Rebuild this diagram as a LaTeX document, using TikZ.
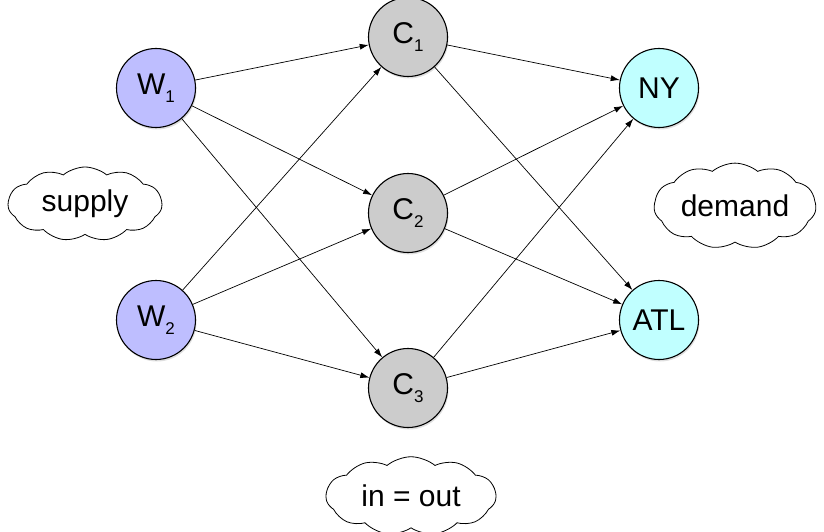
\documentclass[tikz,border=0pt]{standalone}
\usepackage{fontspec}
\setmainfont{Liberation Sans}
\usetikzlibrary{shapes.symbols,shadows,arrows.meta}
\newcommand{\sbs}[1]{\raisebox{-0.25em}{\fontsize{17}{17}\selectfont #1}}
\begin{document}
\begin{tikzpicture}[x=1pt,y=-1pt,
  every node/.style={font=\fontsize{30}{35}\selectfont},
  vtx/.style={circle,draw=black,line width=1.1pt,minimum size=79pt,inner sep=0pt,
     drop shadow={shadow xshift=1pt,shadow yshift=-2pt,opacity=0.25}},
  wnode/.style={vtx,fill={rgb,255:red,190;green,190;blue,255}},
  cnode/.style={vtx,fill={rgb,255:red,204;green,204;blue,204}},
  dnode/.style={vtx,fill={rgb,255:red,192;green,255;blue,255}},
  cloudbox/.style={cloud,draw=black,line width=0.8pt,cloud puffs=11,cloud puff arc=80,aspect=2.1,inner sep=0pt},
  flow/.style={draw=black,line width=0.7pt,-{Latex[length=9pt,width=6pt]}}
]
\useasboundingbox (0,0) rectangle (824,532);
\node[wnode] (W1) at (156,88) {W\sbs{1}};
\node[wnode] (W2) at (156,320) {W\sbs{2}};
\node[cnode] (C1) at (408,37) {C\sbs{1}};
\node[cnode] (C2) at (408,213) {C\sbs{2}};
\node[cnode] (C3) at (408,388) {C\sbs{3}};
\node[dnode] (NY) at (659,88) {NY};
\node[dnode] (ATL) at (659,320) {ATL};
\node[cloudbox,minimum width=154pt,minimum height=74pt] (sup) at (85,204) {supply};
\node[cloudbox,minimum width=162pt,minimum height=72pt] (dem) at (735,206) {demand};
\node[cloudbox,minimum width=170pt,minimum height=66pt] (io) at (411,496) {in = out};
\foreach \a/\b in {W1/C1,W1/C2,W1/C3,W2/C1,W2/C2,W2/C3,C1/NY,C1/ATL,C2/NY,C2/ATL,C3/NY,C3/ATL}
  \draw[flow] (\a) -- (\b);
\end{tikzpicture}
\end{document}
